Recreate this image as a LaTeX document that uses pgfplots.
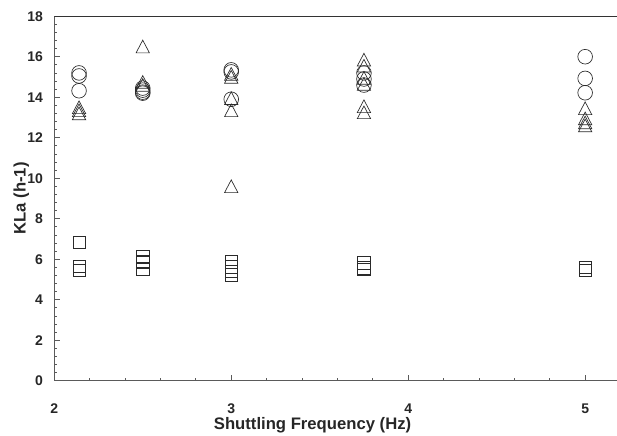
\documentclass[border=0pt]{standalone}
\usepackage{pgfplots}
\pgfplotsset{compat=1.18}
\usepackage{fontspec}
\setmainfont{Liberation Sans}
\definecolor{axgray}{HTML}{5A5A5A}
\definecolor{markgray}{HTML}{2A2A2A}
\begin{document}
\begin{tikzpicture}
\useasboundingbox (-40.7pt,-40.7pt) rectangle (422pt,285.55pt);
\begin{axis}[
  scale only axis, width=422pt, height=273.4pt,
  xmin=2, xmax=5.18, ymin=0, ymax=18,
  axis x line*=bottom, axis y line*=left,
  axis line style={axgray, line width=0.8pt},
  xtick={2,3,4,5}, ytick={0,2,...,18},
  minor x tick num=4, minor y tick num=4,
  tick align=inside,
  major tick length=4pt, minor tick length=2.2pt,
  every tick/.style={axgray, line width=0.6pt},
  /pgf/number format/assume math mode=true,
  ticklabel style={font=\fontsize{10.5}{12}\selectfont\bfseries, text=black!85},
  xticklabel style={yshift=-13.6pt},
  yticklabel style={xshift=-5pt},
  xlabel={Shuttling Frequency (Hz)},
  ylabel={KLa (h-1)},
  label style={font=\fontsize{12.5}{14}\selectfont\bfseries, text=black!85},
  xlabel style={at={(rel axis cs:0.459,0)}, anchor=north, yshift=-23.6pt},
  ylabel style={at={(rel axis cs:-0.0585,0.5)}, anchor=center},
]
% circles
\addplot[only marks, mark=o, mark size=5.5pt, mark options={line width=0.5pt, draw=markgray}] coordinates {
  (2.14,15.2) (2.14,15.05) (2.14,14.32)
  (2.5,14.45) (2.5,14.35) (2.5,14.25) (2.5,14.2)
  (3,15.35) (3,15.25) (3,13.9)
  (3.75,15.2) (3.75,14.9) (3.75,14.6)
  (5,16.0) (5,14.93) (5,14.22)
};
% triangles
\addplot[only marks, mark=triangle, mark size=5.77pt, mark options={line width=0.5pt, draw=markgray, yscale=1.1}] coordinates {
  (2.14,13.4) (2.14,13.25) (2.14,13.1)
  (2.5,16.4) (2.5,14.65) (2.5,14.5)
  (3,15.05) (3,14.9) (3,13.85) (3,13.25) (3,9.5)
  (3.75,15.75) (3.75,15.45) (3.75,14.85) (3.75,14.55) (3.75,13.45) (3.75,13.15)
  (5,13.35) (5,12.85) (5,12.65) (5,12.5)
};
% squares
\addplot[only marks, mark=square, mark size=4.6pt, mark options={line width=0.5pt, draw=markgray}] coordinates {
  (2.14,6.84) (2.14,5.66) (2.14,5.47)
  (2.5,6.13) (2.5,5.9) (2.5,5.85) (2.5,5.51)
  (3,5.87) (3,5.62) (3,5.4) (3,5.23)
  (3.75,5.82) (3.75,5.57) (3.75,5.49)
  (5,5.6) (5,5.44)
};
\draw[line width=1.6pt, color=black!80] (rel axis cs:0,1) -- (rel axis cs:1,1);
\end{axis}
\end{tikzpicture}
\end{document}
